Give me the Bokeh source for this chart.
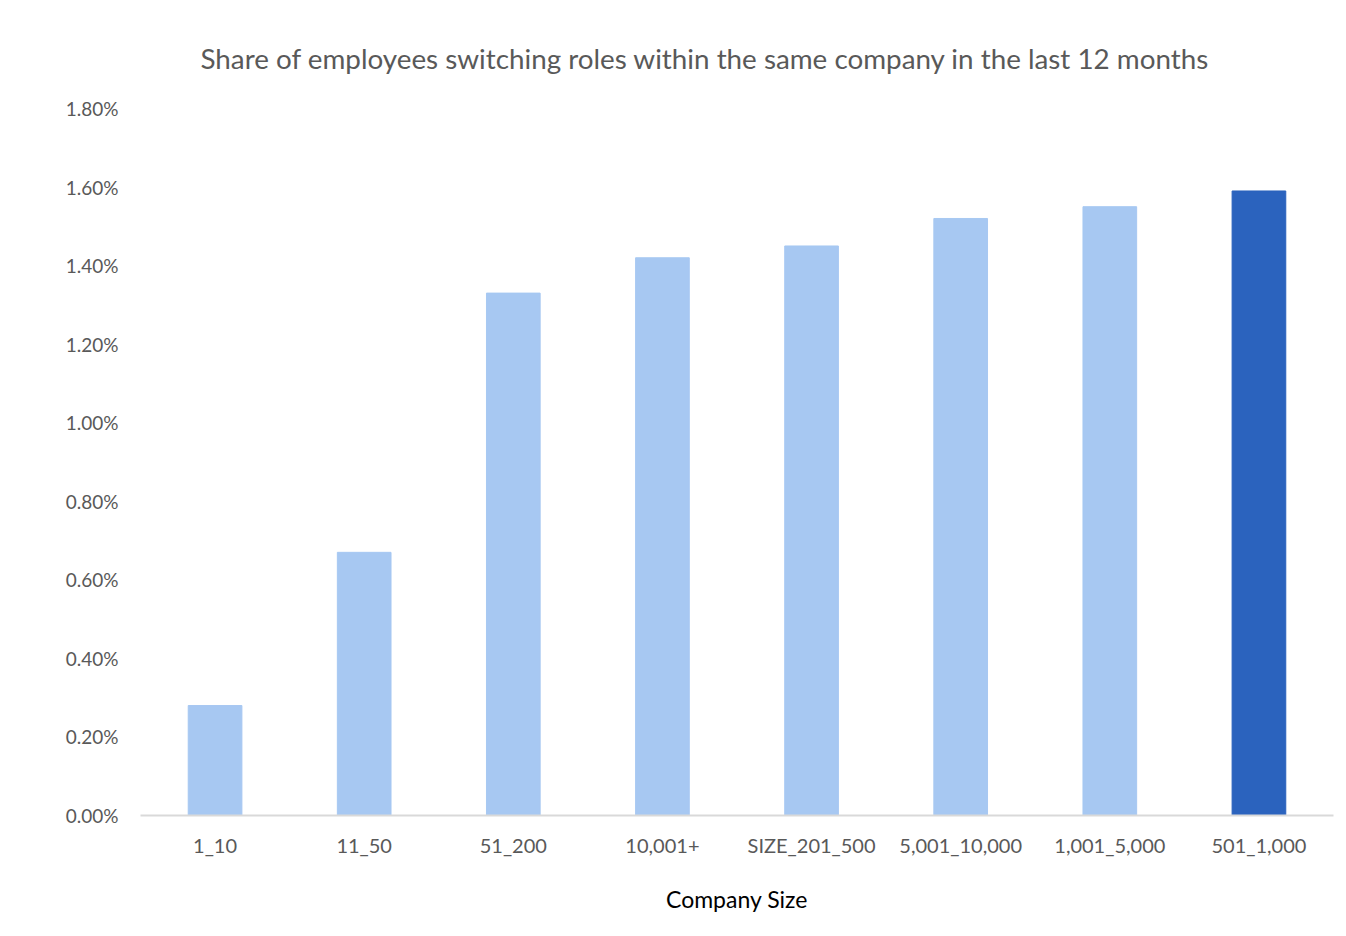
from bokeh.plotting import figure
from bokeh.models import ColumnDataSource, NumeralTickFormatter, FixedTicker, Range1d, Title
from bokeh.embed import file_html
from bokeh.resources import INLINE

categories = ["1_10", "11_50", "51_200", "10,001+", "SIZE_201_500", "5,001_10,000", "1,001_5,000", "501_1,000"]
values = [0.0028, 0.0067, 0.0133, 0.0142, 0.0145, 0.0152, 0.0155, 0.0159]
colors = ["#A7C8F2"] * 7 + ["#2B63BE"]
y_ticks = [0.0, 0.002, 0.004, 0.006, 0.008, 0.010, 0.012, 0.014, 0.016, 0.018]

source = ColumnDataSource(dict(cat=categories, val=values, color=colors))

p = figure(x_range=categories, y_range=Range1d(0, 0.018),
           frame_width=1193, frame_height=707,
           min_border_left=140, min_border_right=6, min_border_top=108, min_border_bottom=10,
           output_backend="svg", toolbar_location=None, title=None)

p.vbar(x="cat", top="val", width=0.36, color="color", source=source)

t = Title(text="Share of employees switching roles within the same company in the last 12 months",
          align="left", text_font="Lato", text_font_size="27.8px", text_font_style="normal",
          text_color="#595959", offset=60, standoff=68)
p.add_layout(t, "above")

p.outline_line_color = None
p.xgrid.grid_line_color = None
p.ygrid.grid_line_color = None

p.yaxis.ticker = FixedTicker(ticks=y_ticks)
p.yaxis.formatter = NumeralTickFormatter(format="0.00%")
p.yaxis.axis_line_color = None
p.yaxis.major_tick_line_color = None
p.yaxis.minor_tick_line_color = None
p.yaxis.major_label_text_font = "Lato"
p.yaxis.major_label_text_font_size = "19px"
p.yaxis.major_label_text_color = "#595959"
p.yaxis.major_label_standoff = 16

p.xaxis.axis_line_color = "#D9D9D9"
p.xaxis.axis_line_width = 2
p.xaxis.major_tick_line_color = None
p.xaxis.minor_tick_line_color = None
p.xaxis.major_label_text_font = "Lato"
p.xaxis.major_label_text_font_size = "20px"
p.xaxis.major_label_text_color = "#595959"
p.xaxis.major_label_standoff = 11
p.xaxis.axis_label = "Company Size"
p.xaxis.axis_label_text_font = "Lato"
p.xaxis.axis_label_text_font_size = "23px"
p.xaxis.axis_label_text_font_style = "normal"
p.xaxis.axis_label_text_color = "#000000"
p.xaxis.axis_label_standoff = 25
p.x_range.range_padding = 0

open("out.html", "w").write(file_html(p, INLINE))
